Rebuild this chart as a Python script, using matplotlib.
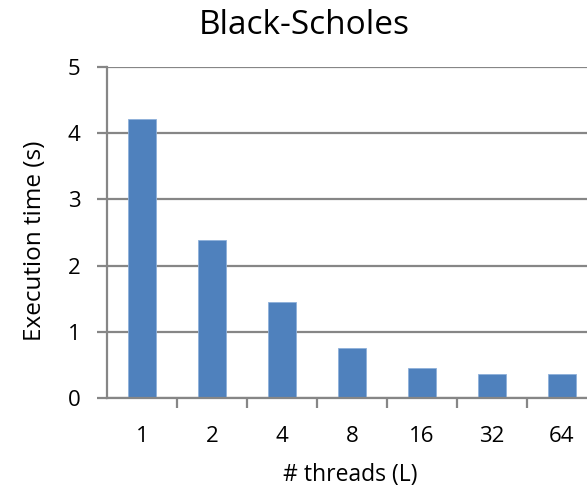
import numpy as np
from matplotlib import pyplot as plt

threads = ["1", "2", "4", "8", "16", "32", "64"]
exec_time = [4.22, 2.38, 1.45, 0.75, 0.46, 0.36, 0.36]
yticks = [0, 1, 2, 3, 4, 5]

plt.rcParams['font.family'] = ['Open Sans', 'DejaVu Sans']

fig = plt.figure(figsize=(5.87, 4.88), dpi=100)
ax = fig.add_axes([107/587, 90/488, 490/587, 331/488])

x = np.arange(len(threads))
grid_c = "#868686"
ax.bar(x, exec_time, width=0.41, color="#4F81BD", edgecolor="#8EB0DA", linewidth=0.6, zorder=3)

ax.set_xlim(-0.5, len(threads) - 0.5)
ax.set_ylim(0, 5)
ax.set_yticks(yticks)
ax.yaxis.grid(True, color=grid_c, linewidth=1.6, zorder=0)

ax.set_xticks(x)
ax.set_xticklabels(threads, fontsize=16)
ax.set_xticks(np.arange(len(threads)) + 0.5, minor=True)
ax.tick_params(axis="x", which="major", length=0, pad=20)
ax.tick_params(axis="x", which="minor", length=7, width=1.6, color=grid_c)
ax.tick_params(axis="y", length=7, width=1.6, color=grid_c, labelsize=16, pad=12)

for s in ["top", "right"]:
    ax.spines[s].set_visible(False)
for s in ["left", "bottom"]:
    ax.spines[s].set_color(grid_c)
    ax.spines[s].set_linewidth(1.6)
    ax.spines[s].set_zorder(4)

fig.text(304/587, 1 - 26/488, "Black-Scholes", ha="center", va="center", fontsize=24)
fig.text(35/587, 1 - 241/488, "Execution time (s)", ha="center", va="center", rotation=90, fontsize=17.5)
fig.text(350/587, 1 - 475/488, "# threads (L)", ha="center", va="center", fontsize=16.5)

fig.savefig("out.png", dpi=100)
